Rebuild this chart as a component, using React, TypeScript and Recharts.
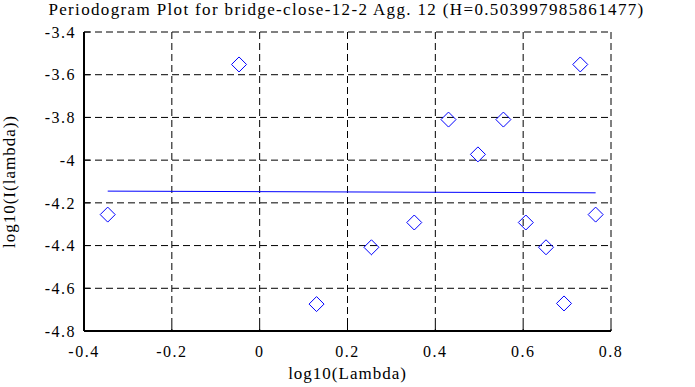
import React from 'react';
import { ScatterChart, Scatter, XAxis, YAxis, CartesianGrid, Label } from 'recharts';

// log10 of frequency vs log10 of periodogram value
const lambdaLog = [-0.346, -0.047, 0.1295, 0.2545, 0.352, 0.43, 0.497, 0.555, 0.606, 0.652, 0.693, 0.73, 0.765];
const periodLog = [-4.255, -3.552, -4.674, -4.408, -4.292, -3.81, -3.973, -3.81, -4.292, -4.408, -4.671, -3.552, -4.255];

// least squares fit line end points
const fitX = [-0.346, 0.765];
const fitY = [-4.145, -4.153];

const xTicks = [-0.4, -0.2, 0, 0.2, 0.4, 0.6, 0.8];
const yTicks = [-4.8, -4.6, -4.4, -4.2, -4, -3.8, -3.6, -3.4];

const points = lambdaLog.map((x, i) => ({ x, y: periodLog[i] }));
const fit = fitX.map((x, i) => ({ x, y: fitY[i] }));

const FONT = '"Liberation Serif", "Times New Roman", serif';
const tickStyle = { fill: '#000', fontSize: 16, fontFamily: FONT, letterSpacing: 1.5 };
const axisLine = { stroke: '#000', strokeWidth: 2 };
const tickLine = { stroke: '#000', strokeWidth: 1 };

const Diamond = (props: any) => {
  const { cx, cy } = props;
  const r = 7.5;
  return (
    <polygon
      points={`${cx},${cy - r} ${cx + r},${cy} ${cx},${cy + r} ${cx - r},${cy}`}
      fill="none"
      stroke="#0000ff"
      strokeWidth={1}
    />
  );
};

const textStyle = { fontFamily: FONT, fontSize: 17, fill: '#000', letterSpacing: 1 };

const App: React.FC = () => {
  return (
    <div style={{ position: 'absolute', left: 0, top: 0, width: 695, height: 387, background: '#fff', fontFamily: FONT }}>
      <div
        style={{
          position: 'absolute',
          left: 0,
          top: 0,
          width: 693,
          textAlign: 'center',
          fontSize: 17,
          letterSpacing: 1.35,
          whiteSpace: 'nowrap',
        }}
      >
        Periodogram Plot for bridge-close-12-2 Agg. 12 (H=0.503997985861477)
      </div>
      <ScatterChart width={695} height={387} margin={{ top: 32, right: 84, bottom: 0, left: 0 }}>
        <CartesianGrid stroke="#000" strokeDasharray="7 4" />
        <XAxis
          type="number"
          dataKey="x"
          domain={[-0.4, 0.8]}
          ticks={xTicks}
          interval={0}
          height={56}
          tick={tickStyle}
          tickSize={-6}
          tickMargin={21}
          axisLine={axisLine}
          tickLine={tickLine}
          allowDataOverflow
        >
          <Label
            content={({ viewBox }: any) => (
              <text x={viewBox.x + viewBox.width / 2} y={viewBox.y + 48} textAnchor="middle" style={textStyle}>
                log10(Lambda)
              </text>
            )}
          />
        </XAxis>
        <XAxis
          xAxisId="top"
          orientation="top"
          type="number"
          dataKey="x"
          domain={[-0.4, 0.8]}
          ticks={xTicks}
          interval={0}
          height={0}
          tick={false}
          tickSize={-6}
          axisLine={axisLine}
          tickLine={tickLine}
          allowDataOverflow
        />
        <YAxis
          type="number"
          dataKey="y"
          domain={[-4.8, -3.4]}
          ticks={yTicks}
          interval={0}
          width={84}
          tick={tickStyle}
          tickSize={-6}
          tickMargin={14}
          axisLine={axisLine}
          tickLine={tickLine}
          allowDataOverflow
        >
          <Label
            content={({ viewBox }: any) => (
              <text
                transform={`translate(${viewBox.x + 15}, ${viewBox.y + viewBox.height / 2}) rotate(-90)`}
                textAnchor="middle"
                style={textStyle}
              >
                log10(I(lambda))
              </text>
            )}
          />
        </YAxis>
        <YAxis
          yAxisId="right"
          orientation="right"
          type="number"
          dataKey="y"
          domain={[-4.8, -3.4]}
          ticks={yTicks}
          interval={0}
          width={0}
          tick={false}
          tickSize={-6}
          axisLine={axisLine}
          tickLine={tickLine}
          allowDataOverflow
        />
        <Scatter data={points} shape={Diamond} isAnimationActive={false} />
        <Scatter
          data={fit}
          line={{ stroke: '#0000ff', strokeWidth: 1 }}
          shape={() => <g />}
          isAnimationActive={false}
        />
      </ScatterChart>
    </div>
  );
};

export default App;
